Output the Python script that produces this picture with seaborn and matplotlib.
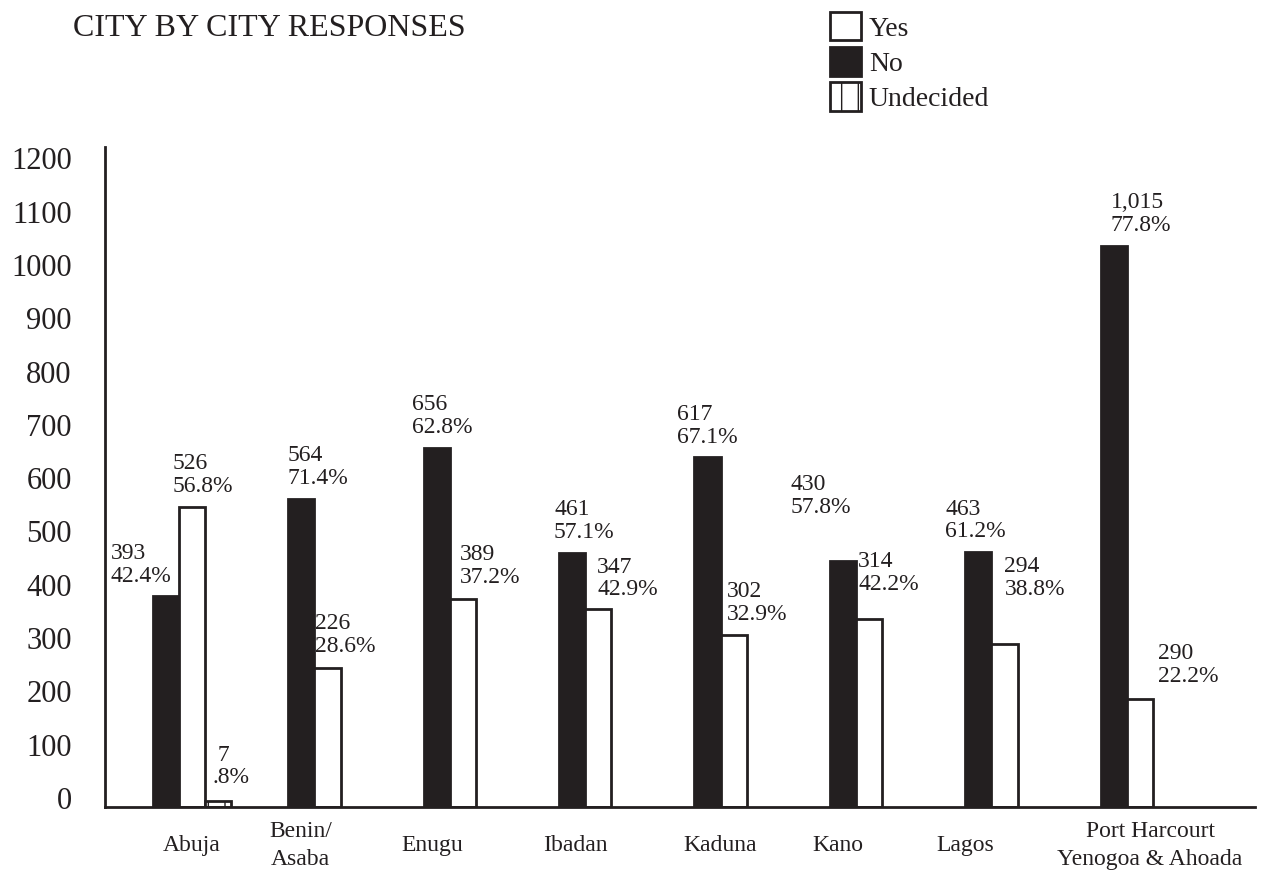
import numpy as np
import pandas as pd
import seaborn as sns
import matplotlib.pyplot as plt
from matplotlib.patches import Patch
from matplotlib.transforms import ScaledTranslation

sns.set_theme(style="white")
plt.rcParams['font.family'] = ['Liberation Serif', 'DejaVu Serif']
plt.rcParams['hatch.linewidth'] = 1.0

ink = "#231f20"

# data (bar heights as drawn, labels as printed)
cities = ["Abuja", "Benin/\nAsaba", "Enugu", "Ibadan", "Kaduna", "Kano", "Lagos",
          "Port Harcourt\nYenogoa & Ahoada"]
no_heights = [396, 578, 674, 477, 657, 462, 478, 1053]
yes_heights = [563, 261, 390, 371, 323, 353, 306, 203]
undecided_cities = ["Abuja"]
undecided_heights = [11]

no_labels = ["393\n42.4%", "564\n71.4%", "656\n62.8%", "461\n57.1%", "617\n67.1%",
             "430\n57.8%", "463\n61.2%", "1,015\n77.8%"]
yes_labels = ["526\n56.8%", "226\n28.6%", "389\n37.2%", "347\n42.9%", "302\n32.9%",
              "314\n42.2%", "294\n38.8%", "290\n22.2%"]
undecided_labels = [" 7\n.8%"]

y_ticks = list(range(0, 1300, 100))

# label offsets (pixels from bar top-left corner)
no_offsets = [(-42, 9), (-1, 10), (-12, 10), (-5, 10), (-17, 9), (-39, 43), (-20, 10), (10, 10)]
yes_offsets = [(-6, 10), (1, 11), (10, 11), (12, 9), (6, 10), (2, 24), (13, 44), (31, 12)]
und_offsets = [(7, 13)]
city_dx = [0, -27, -31, -23, -14, -31, -39, 10]

df = pd.concat([
    pd.DataFrame({"city": cities, "count": no_heights, "response": "No"}),
    pd.DataFrame({"city": cities, "count": yes_heights, "response": "Yes"}),
    pd.DataFrame({"city": undecided_cities, "count": undecided_heights, "response": "Undecided"}),
])

fig = plt.figure(figsize=(12.69, 8.84), dpi=100)
ax = fig.add_axes([105 / 1269, 77 / 884, 1150 / 1269, 660 / 884])

sns.barplot(data=df, x="city", y="count", hue="response", order=cities,
            hue_order=["No", "Yes", "Undecided"],
            palette={"No": ink, "Yes": "white", "Undecided": "white"},
            width=0.58, edgecolor=ink, linewidth=2, saturation=1,
            legend=False, ax=ax)

for p in ax.containers[2]:
    p.set_hatch("|")

for container, labels, offsets in zip(ax.containers,
                                      [no_labels, yes_labels, undecided_labels],
                                      [no_offsets, yes_offsets, und_offsets]):
    for p, txt, (dx, dy) in zip(container, labels, offsets):
        ax.annotate(txt, xy=(p.get_x(), p.get_height()), xytext=(dx, dy),
                    textcoords="offset pixels", ha="left", va="bottom",
                    fontsize=17, color=ink, linespacing=1.1)

ax.set_xlim(-0.6425, 7.849)
ax.set_ylim(0, 1238)
ax.set_yticks(y_ticks)
ax.set_yticklabels([str(t) for t in y_ticks])
ax.set_xlabel("")
ax.set_ylabel("")
ax.tick_params(axis="y", length=0, pad=24, labelsize=22, labelcolor=ink)
ax.tick_params(axis="x", length=0, pad=28, labelsize=17, labelcolor=ink)

for lab in ax.get_yticklabels():
    lab.set_transform(lab.get_transform() + ScaledTranslation(0, 0.09, fig.dpi_scale_trans))
for lab, dx in zip(ax.get_xticklabels(), city_dx):
    lab.set_linespacing(1.45)
    lab.set_verticalalignment("center")
    lab.set_transform(lab.get_transform() + ScaledTranslation(dx / 100, 0, fig.dpi_scale_trans))

sns.despine(ax=ax)
for side in ["left", "bottom"]:
    ax.spines[side].set_color(ink)
    ax.spines[side].set_linewidth(2)
ax.grid(False)

fig.text(73 / 1269, 1 - 29 / 884, "CITY BY CITY RESPONSES", fontsize=23,
         color=ink, va="center", ha="left")

handles = [Patch(facecolor="white", edgecolor=ink, linewidth=2),
           Patch(facecolor=ink, edgecolor=ink, linewidth=2),
           Patch(facecolor="white", edgecolor=ink, linewidth=2, hatch="|")]
fig.legend(handles, ["Yes", "No", "Undecided"], loc="upper left",
           bbox_to_anchor=(830 / 1269, 1 - 12 / 884), frameon=False, fontsize=20,
           handlelength=1.1, handleheight=1.2, handletextpad=0.3, labelspacing=0.2,
           borderpad=0, borderaxespad=0, labelcolor=ink)

fig.savefig("out.png", dpi=100, facecolor="white")
